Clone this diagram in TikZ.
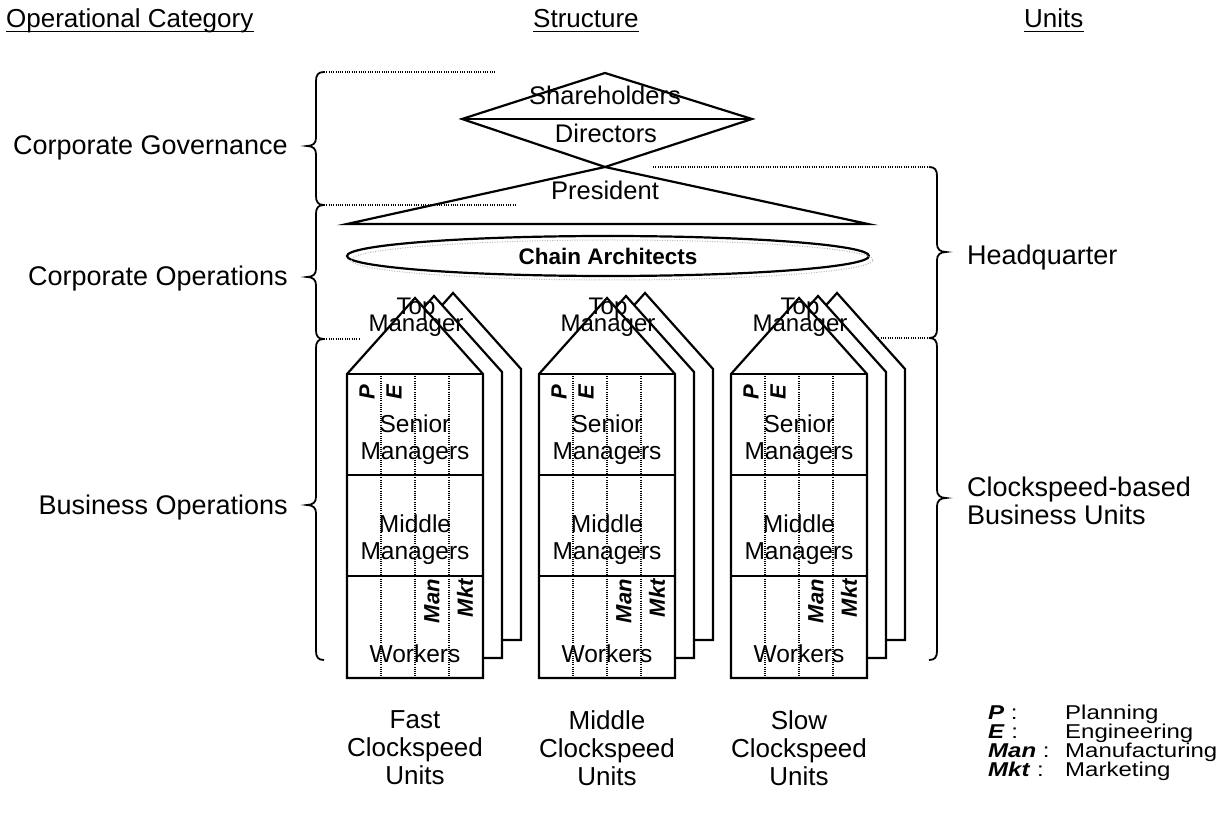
\documentclass[tikz,border=0pt]{standalone}
\usepackage{fontspec}
\setmainfont{Liberation Sans}
\newfontfamily\legendfont[FakeStretch=1.2]{Liberation Sans}
\usetikzlibrary{shapes.geometric}

\tikzset{
  shape line/.style={line width=2.2pt, line join=miter},
  brace line/.style={line width=1.8pt},
  dot rule/.style={line width=1.2pt, dash pattern=on 1pt off 1.3pt},
  col rule/.style={line width=1.1pt, dash pattern=on 1pt off 1.2pt},
  hdr/.style={inner sep=0pt, font=\fontsize{26}{30}\selectfont},
  cat/.style={inner sep=0pt, font=\fontsize{27}{28}\selectfont},
  org/.style={inner sep=0pt, font=\fontsize{25.5}{28}\selectfont},
  tier/.style={inner sep=0pt, align=center, font=\fontsize{24.5}{27}\selectfont},
  roof text/.style={inner sep=0pt, align=center, font={\fontsize{24}{16.5}\selectfont\lineskiplimit=-30pt}},
  fn/.style={inner sep=0pt, font=\fontsize{22}{24}\selectfont\bfseries\itshape},
  caption/.style={inner sep=0pt, align=center, font=\fontsize{26}{28}\selectfont},
  key/.style={inner sep=0pt, font=\legendfont\fontsize{20}{19}\selectfont},
}

% curly brackets: top y, tip y, bottom y
\newcommand\curlyleft[3]{%
  \draw[brace line] (324,#1) .. controls (318,#1) and (316,#1+3) .. (316,#1+9)
    -- (316,#2-8) .. controls (316,#2-3) and (313,#2) .. (307,#2)
    .. controls (313,#2) and (316,#2+3) .. (316,#2+8)
    -- (316,#3-9) .. controls (316,#3-3) and (318,#3) .. (324,#3);}
\newcommand\curlyright[3]{%
  \draw[brace line] (929,#1) .. controls (935,#1) and (937,#1+3) .. (937,#1+9)
    -- (937,#2-8) .. controls (937,#2-3) and (940,#2) .. (946,#2)
    .. controls (940,#2) and (937,#2+3) .. (937,#2+8)
    -- (937,#3-9) .. controls (937,#3-3) and (935,#3) .. (929,#3);}

\begin{document}
\begin{tikzpicture}[x=1pt,y=-1pt]
\useasboundingbox (0,0) rectangle (1227,818);

% column headings
\node[hdr, anchor=base west] (hCat) at (6,28) {Operational Category};
\node[hdr, anchor=base west] (hStr) at (533,28) {Structure};
\node[hdr, anchor=base west] (hUni) at (1024,28) {Units};
\foreach \n in {hCat,hStr,hUni}
  \draw[line width=1.4pt] ([yshift=-3.5pt]\n.base west) -- ([yshift=-3.5pt]\n.base east);

% operational categories
\node[cat, anchor=base east] (cGov) at (288,155) {Corporate Governance};
\node[cat, anchor=base east] (cOps) at (288,286) {Corporate Operations};
\node[cat, anchor=base east] (cBiz) at (288,514) {Business Operations};
\curlyleft{72}{146}{205}
\curlyleft{205}{277}{339}
\curlyleft{339}{505}{660}

% units
\node[cat, anchor=base west] (uHq) at (967,265) {Headquarter};
\node[cat, anchor=north west, align=left] (uBu) at (967,477) {Clockspeed-based\\Business Units};
\curlyright{167}{252}{338}
\curlyright{338}{498}{660}

% dotted boundaries between the levels
\coordinate (gA) at (324,72);  \coordinate (gB) at (496,72);
\coordinate (oA) at (324,205); \coordinate (oB) at (516,205);
\coordinate (bA) at (324,339); \coordinate (bB) at (360,339);
\coordinate (qA) at (653,167); \coordinate (qB) at (929,167);
\coordinate (rA) at (860,338); \coordinate (rB) at (929,338);
\draw[dot rule] (gA) -- (gB);
\draw[dot rule] (oA) -- (oB);
\draw[dot rule] (bA) -- (bB);
\draw[dot rule] (qA) -- (qB);
\draw[dot rule] (rA) -- (rB);

% governance diamond and president triangle
\coordinate (dt) at (605,73);
\coordinate (dl) at (462,119);
\coordinate (dr) at (752,119);
\coordinate (db) at (605,167);
\coordinate (tl) at (347,224);
\coordinate (tr) at (868,224);
\draw[shape line] (dl) -- (dt) -- (dr) -- (db) -- cycle;
\draw[shape line] (dl) -- (dr);
\draw[shape line] (db) -- (tr) -- (tl) -- cycle;
\node[org, anchor=base] (share) at (605,105) {Shareholders};
\node[org, anchor=base] (dir) at (606,143) {Directors};
\node[org, anchor=base] (pres) at (605,200) {President};

% chain architects
\node[draw, ellipse, shape line, fill=white, minimum width=522pt, minimum height=40pt,
      inner sep=0pt, font=\fontsize{22.5}{24}\selectfont\bfseries] (chain) at (608,256) {Chain Architects};
\draw[gray!55, line width=1pt, dash pattern=on 1pt off 1.5pt]
  ([shift={(4,4)}]chain.center) ellipse [x radius=261pt, y radius=20pt];

% clockspeed-based business units
\foreach \i/\cx/\lab in {1/415/Fast, 2/607/Middle, 3/799/Slow}{
  \foreach \dx/\dy/\bt in {38/-5/640, 19/-2/658}
    \draw[shape line, fill=white] (\cx+\dx,298+\dy) -- (\cx+68+\dx,374+\dy)
      -- (\cx+68+\dx,\bt) -- (\cx-68+\dx,\bt) -- (\cx-68+\dx,374+\dy) -- cycle;
  \draw[shape line, fill=white] (\cx,298) -- (\cx+68,374) -- (\cx+68,678)
    -- (\cx-68,678) -- (\cx-68,374) -- cycle;
  \draw[shape line] (\cx-68,374) -- (\cx+68,374);
  \draw[shape line] (\cx-68,475) -- (\cx+68,475);
  \draw[shape line] (\cx-68,576) -- (\cx+68,576);
  \foreach \c in {-34,0,34}
    \draw[col rule] (\cx+\c,374) -- (\cx+\c,678);
  \node[roof text, anchor=north] (top\i) at (\cx+1,298) {Top\\Manager};
  \node[tier, anchor=north] (sen\i) at (\cx,415) {Senior\\Managers};
  \node[tier, anchor=north] (mid\i) at (\cx,515) {Middle\\Managers};
  \node[tier, anchor=base] (wrk\i) at (\cx,662) {Workers};
  \node[fn, rotate=90] (p\i) at (\cx-48,392) {P};
  \node[fn, rotate=90] (e\i) at (\cx-21,392) {E};
  \node[fn, rotate=90, anchor=east] (man\i) at (\cx+17,579) {Man};
  \node[fn, rotate=90, anchor=east] (mkt\i) at (\cx+50,579) {Mkt};
  \node[caption, anchor=north] (lab\i) at (\cx,710) {\lab\\Clockspeed\\Units};
}

% legend
\node[key, anchor=base west] (kP) at (988,719) {\textbf{\textit{P}} :};
\node[key, anchor=base west] (kE) at (988,738) {\textbf{\textit{E}} :};
\node[key, anchor=base west] (kMan) at (988,757) {\textbf{\textit{Man}} :};
\node[key, anchor=base west] (kMkt) at (988,776) {\textbf{\textit{Mkt}} :};
\node[key, anchor=base west] (dP) at (1065,719) {Planning};
\node[key, anchor=base west] (dE) at (1065,738) {Engineering};
\node[key, anchor=base west] (dMan) at (1065,757) {Manufacturing};
\node[key, anchor=base west] (dMkt) at (1065,776) {Marketing};
\end{tikzpicture}
\end{document}
